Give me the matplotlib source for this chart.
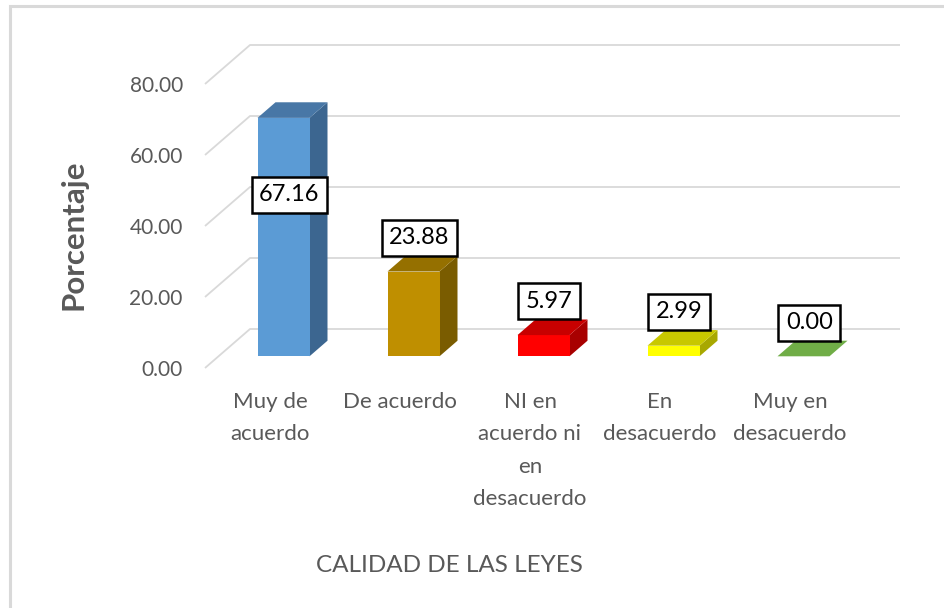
import numpy as np
import matplotlib
matplotlib.use("Agg")
import matplotlib.pyplot as plt
from matplotlib.patches import Polygon, Rectangle

# ---- data ----
categories = ["Muy de\nacuerdo", "De acuerdo", "NI en\nacuerdo ni\nen\ndesacuerdo",
              "En\ndesacuerdo", "Muy en\ndesacuerdo"]
values = [67.16, 23.88, 5.97, 2.99, 0.00]
y_ticks = [0, 20, 40, 60, 80]
y_label = "Porcentaje"
x_title = "CALIDAD DE LAS LEYES"

front_colors = ["#5B9BD5", "#BF8F00", "#FF0000", "#FFFF00", "#70AD47"]
top_colors = ["#4877A6", "#957000", "#C80000", "#C8C800", "#6A9F40"]
side_colors = ["#3C6690", "#7A5C00", "#A80000", "#A8A800", "#5A8A35"]

plt.rcParams['font.family'] = ['Lato', 'DejaVu Sans']
TXT = "#595959"
GRID = "#D9D9D9"

W, H = 944, 608
fig = plt.figure(figsize=(W / 100, H / 100), dpi=100)
fig.patch.set_facecolor("white")

# chart border (only top/left visible in the crop)
fig.add_artist(Rectangle((10 / W, -0.05), 1.1, 1 - 6 / H + 0.05, transform=fig.transFigure,
                         fill=False, ec="#D9D9D9", lw=2.2))

ax = fig.add_axes([205 / W, 240 / H, 650 / W, 284 / H])
ax.set_xlim(-0.5, len(values) - 0.5)
ax.set_ylim(0, 80)
ax.set_facecolor("none")
for s in ax.spines.values():
    s.set_visible(False)

# depth offsets of the 3D projection (data units)
DX = 45 / 130
DY = 39 / 3.55

# walls gridlines
x_left, x_right = -0.5, len(values) - 0.5
for t in y_ticks:
    ax.plot([x_left, x_left + DX, x_right + DX], [t, t + DY, t + DY],
            color=GRID, lw=1.3, clip_on=False, zorder=1, solid_capstyle='butt')

# bars
d0, d1, bw = 0.3, 0.7, 0.4
ddx, ddy = (d1 - d0) * DX, (d1 - d0) * DY
for i, v in enumerate(values):
    x0 = i - bw / 2 + d0 * DX
    x1 = i + bw / 2 + d0 * DX
    yb = d0 * DY
    yt = v + d0 * DY
    front = Polygon([(x0, yb), (x1, yb), (x1, yt), (x0, yt)], closed=True,
                    fc=front_colors[i], ec='none', zorder=3, clip_on=False)
    side = Polygon([(x1, yb), (x1 + ddx, yb + ddy), (x1 + ddx, yt + ddy), (x1, yt)], closed=True,
                   fc=side_colors[i], ec='none', zorder=3, clip_on=False)
    top = Polygon([(x0, yt), (x1, yt), (x1 + ddx, yt + ddy), (x0 + ddx, yt + ddy)], closed=True,
                  fc=top_colors[i] if v > 0 else front_colors[i], ec='none', zorder=3, clip_on=False)
    for p in (side, front, top):
        ax.add_patch(p)

# data labels
for i, v in enumerate(values):
    ly = v * 0.645 if v > 50 else v + 7.3
    ax.text(i + 0.43 * DX, ly + 0.5 * DY, f"{v:.2f}", ha='center', va='center',
            fontsize=17, color='black', zorder=6, clip_on=False,
            bbox=dict(boxstyle='square,pad=0.32', fc='white', ec='black', lw=1.8))

# axes ticks
ax.set_yticks(y_ticks, labels=[f"{t:.2f}" for t in y_ticks])
ax.tick_params(axis='y', length=0, pad=16, labelsize=15, labelcolor=TXT)
ax.set_xticks(range(len(categories)), labels=categories)
ax.tick_params(axis='x', length=0, pad=17, labelsize=16, labelcolor=TXT)
for lbl in ax.get_xticklabels():
    lbl.set_linespacing(1.78)

fig.text(74 / W, 1 - 235 / H, y_label, rotation=90, ha='center', va='center',
         fontsize=22.5, fontweight='bold', color=TXT)
fig.text(449 / W, 1 - 566 / H, x_title, ha='center', va='center', fontsize=17.5, color=TXT)

fig.savefig("out.png", dpi=100)
